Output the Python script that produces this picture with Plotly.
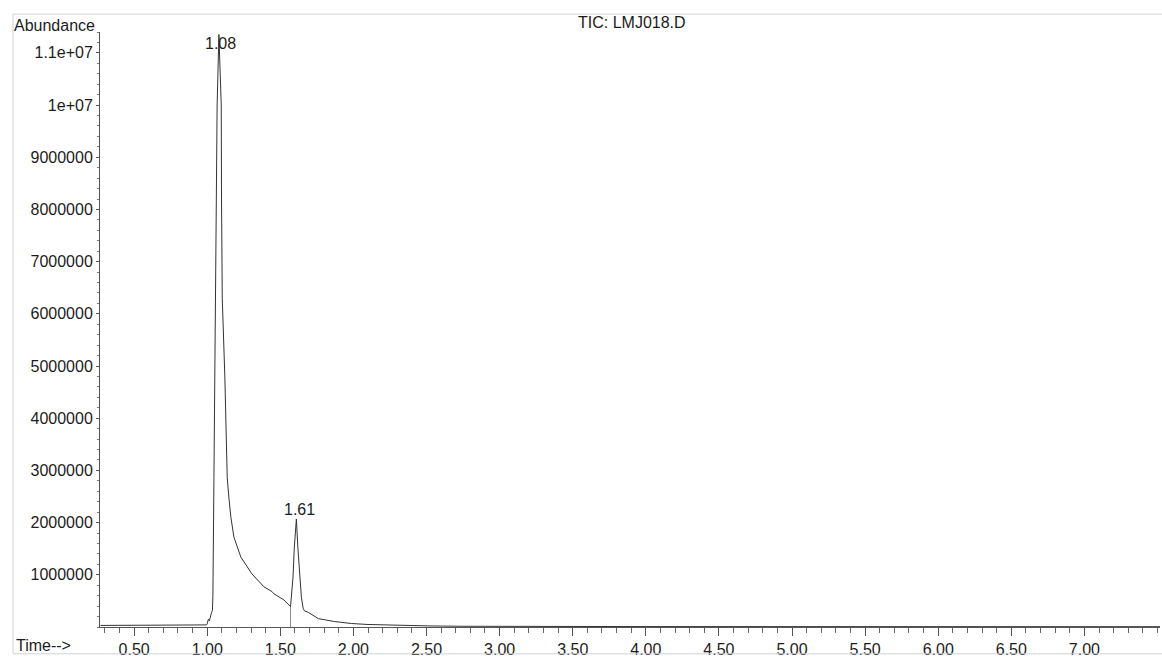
import plotly.graph_objects as go

# Total ion chromatogram, sample LMJ018.D
time_min = [0.27, 0.40, 0.55, 0.70, 0.85, 0.95, 0.995, 1.000, 1.008, 1.015,
            1.022, 1.030, 1.036, 1.039, 1.046, 1.053, 1.057, 1.0615, 1.068, 1.080,
            1.096, 1.098, 1.103, 1.121, 1.137, 1.148, 1.162, 1.183, 1.230, 1.305,
            1.388, 1.430, 1.443, 1.455, 1.524, 1.570, 1.587, 1.596, 1.610, 1.620,
            1.633, 1.644, 1.656, 1.665, 1.692, 1.760, 1.870, 1.986, 2.10, 2.33,
            2.53, 2.75, 3.00, 3.50, 4.00, 5.00, 6.00, 7.00, 7.52]
abundance = [30000, 32000, 30000, 33000, 31000, 34000, 40000, 60000, 150000, 120000,
             220000, 280000, 320000, 600000, 2860000, 4770000, 6300000, 8200000, 10000000, 11350000,
             10000000, 8200000, 6300000, 4770000, 2860000, 2490000, 2100000, 1720000, 1340000, 1020000,
             770000, 700000, 680000, 640000, 520000, 390000, 960000, 1530000, 2070000, 1530000,
             960000, 580000, 360000, 310000, 280000, 160000, 105000, 67000, 48000, 30000,
             20000, 14000, 11000, 9000, 8000, 7000, 6000, 6000, 6000]

# Labelled peaks (retention time, apex abundance)
peak_times = [1.08, 1.61]
peak_heights = [11350000, 2070000]
peak_labels = ["1.08", "1.61"]

# Integration drop line at the valley between the two peaks
valley_time = 1.570
valley_height = 390000

x_tickvals = [0.5, 1.0, 1.5, 2.0, 2.5, 3.0, 3.5, 4.0, 4.5, 5.0, 5.5, 6.0, 6.5, 7.0]
x_ticktext = ["0.50", "1.00", "1.50", "2.00", "2.50", "3.00", "3.50", "4.00",
              "4.50", "5.00", "5.50", "6.00", "6.50", "7.00"]
y_tickvals = [1000000, 2000000, 3000000, 4000000, 5000000, 6000000, 7000000,
              8000000, 9000000, 10000000, 11000000]
y_ticktext = ["1000000", "2000000", "3000000", "4000000", "5000000", "6000000",
              "7000000", "8000000", "9000000", "1e+07", "1.1e+07"]

FONT = "Liberation Sans, Arial, sans-serif"
TEXT = "#1c1c1c"

# plot area in pixels
W, H = 1162, 660
L, R, T, B = 100, 2, 32, 29
pw, ph = W - L - R, H - T - B


def px(xp):
    return (xp - L) / pw


def py(yp):
    return (H - B - yp) / ph


fig = go.Figure()
fig.add_trace(go.Scatter(
    x=[valley_time, valley_time], y=[0, valley_height], mode="lines",
    line=dict(color="#8a8a8a", width=1), hoverinfo="skip"))
fig.add_trace(go.Scatter(
    x=time_min, y=abundance, mode="lines",
    line=dict(color="#333333", width=1)))

for t, h, lab, dx, dy in zip(peak_times, peak_heights, peak_labels, [2, 3], [-9, 9]):
    fig.add_annotation(x=t, y=h, text=lab, showarrow=False, xshift=dx, yshift=dy,
                       font=dict(family=FONT, size=16, color=TEXT))

fig.add_annotation(xref="paper", yref="paper", x=px(12), y=py(25), text="Abundance",
                   xanchor="left", yanchor="middle", showarrow=False,
                   font=dict(family=FONT, size=16, color=TEXT))
fig.add_annotation(xref="paper", yref="paper", x=px(632), y=py(22), text="TIC: LMJ018.D",
                   xanchor="center", yanchor="middle", showarrow=False,
                   font=dict(family=FONT, size=16, color=TEXT))
fig.add_annotation(xref="paper", yref="paper", x=px(14), y=py(650), text="Time-->",
                   xanchor="left", yanchor="middle", showarrow=False,
                   font=dict(family=FONT, size=16, color=TEXT))

# page frame
fig.add_shape(type="rect", xref="paper", yref="paper",
              x0=px(13), x1=px(1175), y0=py(658), y1=py(14),
              line=dict(color="#cfd3d8", width=1), fillcolor="rgba(0,0,0,0)")

fig.update_layout(
    width=W, height=H,
    margin=dict(l=L, r=R, t=T, b=B),
    paper_bgcolor="white", plot_bgcolor="white",
    showlegend=False,
    xaxis=dict(
        range=[(L - 61) / 146.2, (W - R - 61) / 146.2],
        showline=True, linecolor="#555555", linewidth=1,
        ticks="outside", ticklen=8, tickcolor="#555555", tickwidth=1,
        tickvals=x_tickvals, ticktext=x_ticktext,
        tickfont=dict(family=FONT, size=16, color=TEXT),
        showgrid=False, zeroline=False,
        minor=dict(ticks="outside", ticklen=5, dtick=0.1, tick0=0,
                   tickcolor="#666666", showgrid=False),
    ),
    yaxis=dict(
        range=[0, 11400000],
        showline=True, linecolor="#555555", linewidth=1,
        ticks="outside", ticklen=3, tickcolor="#555555", tickwidth=1,
        tickvals=y_tickvals, ticktext=y_ticktext,
        tickfont=dict(family=FONT, size=16, color=TEXT),
        showgrid=False, zeroline=False,
        minor=dict(ticks="outside", ticklen=2, dtick=200000, tick0=0,
                   tickcolor="#777777", showgrid=False),
    ),
)

fig.write_html("out.html")
